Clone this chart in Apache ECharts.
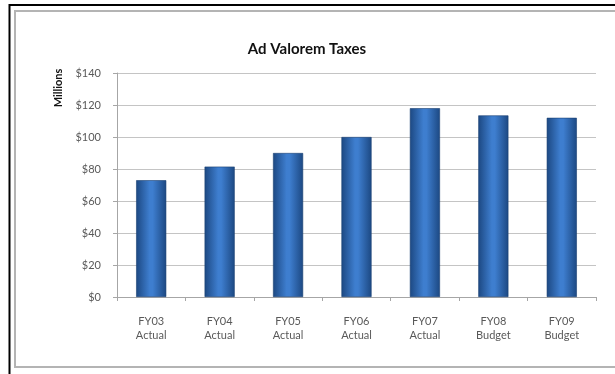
<!DOCTYPE html>
<html>
<head>
<meta charset="utf-8">
<script src="https://cdn.jsdelivr.net/npm/echarts@6/dist/echarts.min.js"></script>
<style>
  html, body { margin: 0; padding: 0; background: #fff; overflow: hidden; }
  #chart { width: 615px; height: 374px; }
</style>
</head>
<body>
<div id="chart"></div>
<script>
// Fiscal years and their status (actual vs budget)
const years = ['FY03', 'FY04', 'FY05', 'FY06', 'FY07', 'FY08', 'FY09'];
const status = ['Actual', 'Actual', 'Actual', 'Actual', 'Actual', 'Budget', 'Budget'];
// Ad valorem tax revenue, millions of dollars
const taxes = [73, 81.5, 90, 100, 118, 113.5, 112];
// Value axis settings
const yMin = 0, yMax = 140, yStep = 20;

const categories = years.map((y, i) => y + '\n' + status[i]);

const chart = echarts.init(document.getElementById('chart'), null, { renderer: 'canvas' });

const barFill = new echarts.graphic.LinearGradient(0, 0, 1, 0, [
  { offset: 0, color: '#1c4882' },
  { offset: 0.45, color: '#3e7ecf' },
  { offset: 0.55, color: '#3e7ecf' },
  { offset: 1, color: '#1c4882' }
]);

chart.setOption({
  animation: false,
  textStyle: { fontFamily: 'Lato, "Open Sans", sans-serif' },
  title: {
    text: 'Ad Valorem Taxes',
    left: 302,
    textAlign: 'center',
    top: 37,
    textStyle: { fontSize: 15, fontWeight: 'bold', color: '#111', fontFamily: 'Lato, sans-serif' }
  },
  graphic: [
    // chart frame: top, left and bottom edges
    {
      type: 'polyline',
      shape: { points: [[615, 11], [15, 11], [15, 367], [615, 367]] },
      style: { fill: null, stroke: '#b4b4b4', lineWidth: 2 }
    },
    // outer black frame: top and left edges
    {
      type: 'polyline',
      shape: { points: [[615, 5], [9.5, 5], [9.5, 374]] },
      style: { fill: null, stroke: '#000', lineWidth: 2 }
    },
    {
      type: 'text',
      x: 58, y: 88, rotation: Math.PI / 2,
      style: {
        text: 'Millions', fill: '#111',
        font: 'bold 11px Lato, sans-serif',
        align: 'center', verticalAlign: 'middle'
      }
    }
  ],
  grid: { left: 117, right: 19, top: 73, bottom: 77 },
  xAxis: {
    type: 'category',
    data: categories,
    axisLine: { lineStyle: { color: '#a6a6a6', width: 1 } },
    axisTick: { show: true, length: 4, lineStyle: { color: '#a6a6a6' } },
    axisLabel: {
      color: '#595959', fontSize: 11, lineHeight: 14, margin: 17,
      fontFamily: 'Lato, sans-serif'
    }
  },
  yAxis: {
    type: 'value',
    min: yMin, max: yMax, interval: yStep,
    axisLine: { show: true, lineStyle: { color: '#a6a6a6' } },
    axisTick: { show: true, length: 4, lineStyle: { color: '#a6a6a6' } },
    splitLine: { lineStyle: { color: '#c4c4c4', width: 1 } },
    axisLabel: {
      color: '#595959', fontSize: 11, margin: 16,
      formatter: v => '$' + v
    }
  },
  series: [{
    type: 'bar',
    data: taxes,
    barWidth: '44%',
    itemStyle: { color: barFill, borderColor: '#1a3f72', borderWidth: 0.6 }
  }]
});
</script>
</body>
</html>
